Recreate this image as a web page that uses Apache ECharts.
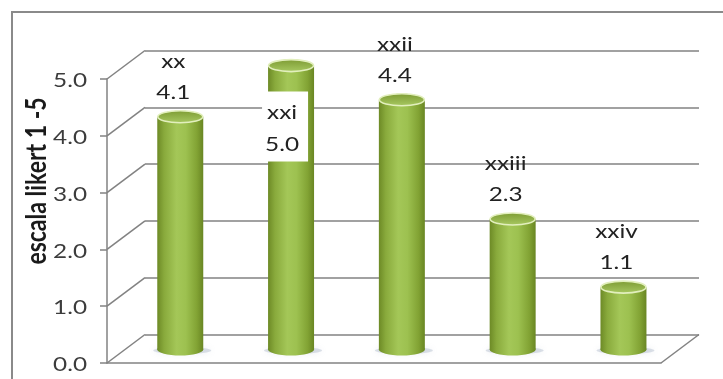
<!DOCTYPE html>
<html>
<head>
<meta charset="utf-8">
<script src="https://cdn.jsdelivr.net/npm/echarts@6/dist/echarts.min.js"></script>
<style>
  html, body { margin: 0; padding: 0; background: #ffffff; }
  #chart { width: 723px; height: 379px; }
</style>
</head>
<body>
<div id="chart"></div>
<script>
// Chart data
const categories = ['xx', 'xxi', 'xxii', 'xxiii', 'xxiv'];
const values = [4.1, 5.0, 4.4, 2.3, 1.1];
const tickValues = [0, 1, 2, 3, 4, 5];
const tickLabels = ['0.0', '1.0', '2.0', '3.0', '4.0', '5.0'];
const axisTitle = 'escala likert 1 -5';

// Styling / layout
const FONT = 'Lato';
const STRETCH = 1.28;              // horizontal text stretch
const GRID_COLOR = '#828282';
const FRONT = { left: 107, top: 79, width: 554, height: 284 };
const DEPTH = { dx: 38, dy: -28.5 }; // offset from the front plane to the back wall

function plane(k) {
  return {
    left: FRONT.left + DEPTH.dx * k,
    top: FRONT.top + DEPTH.dy * k,
    width: FRONT.width,
    height: FRONT.height
  };
}

const chart = echarts.init(document.getElementById('chart'), null, { renderer: 'canvas' });

// Perspective frame: depth connectors from the front axis to the back wall, plus tick labels
const frameSeries = {
  type: 'custom',
  xAxisIndex: 1,
  yAxisIndex: 1,
  silent: true,
  clip: false,
  z: 1,
  data: tickValues.map((v, k) => [0, v, k]).concat([[1, 0, -1]]),
  renderItem(params, api) {
    const p = api.coord([api.value(0), api.value(1)]);
    const k = api.value(2);
    const children = [{
      type: 'line',
      shape: { x1: p[0], y1: p[1], x2: p[0] + DEPTH.dx, y2: p[1] + DEPTH.dy },
      style: { stroke: GRID_COLOR, lineWidth: 1.5 }
    }];
    if (k >= 0) {
      children.push({
        type: 'text',
        x: p[0] - 20,
        y: p[1] + 2,
        scaleX: STRETCH,
        style: {
          text: tickLabels[k],
          align: 'right',
          verticalAlign: 'middle',
          fontSize: 19,
          fontFamily: FONT,
          fill: '#3c3c3c'
        }
      });
    }
    return { type: 'group', children };
  }
};

// Cylinder bars with their category / value labels
const barSeries = {
  type: 'custom',
  xAxisIndex: 2,
  yAxisIndex: 2,
  silent: true,
  clip: false,
  z: 3,
  data: values.map((v, i) => [i, v]),
  renderItem(params, api) {
    const i = api.value(0);
    const v = api.value(1);
    const top = api.coord([i, v]);
    const base = api.coord([i, 0]);
    const w = api.size([1, 0])[0] * 0.415;
    const rx = w / 2;
    const ry = 6;
    const cx = top[0];

    const bodyFill = {
      type: 'linear', x: 0, y: 0, x2: 1, y2: 0,
      colorStops: [
        { offset: 0, color: '#6d8a26' },
        { offset: 0.15, color: '#89aa3c' },
        { offset: 0.42, color: '#a4c758' },
        { offset: 0.62, color: '#9dc150' },
        { offset: 0.86, color: '#82a334' },
        { offset: 1, color: '#698623' }
      ]
    };
    const capFill = {
      type: 'linear', x: 0, y: 0, x2: 0, y2: 1,
      colorStops: [
        { offset: 0, color: '#7c9a32' },
        { offset: 1, color: '#a9ca63' }
      ]
    };
    const textStyle = {
      align: 'center',
      verticalAlign: 'middle',
      fontSize: 19,
      fontFamily: FONT,
      fill: '#222222'
    };

    const children = [
      {
        type: 'ellipse',
        shape: { cx: cx + 2, cy: base[1] + 1, rx: rx + 6, ry: 3.5 },
        style: {
          fill: 'rgba(140,155,180,0.3)',
          shadowBlur: 6,
          shadowColor: 'rgba(140,155,180,0.5)'
        }
      },
      {
        type: 'ellipse',
        shape: { cx: cx, cy: base[1], rx: rx, ry: ry },
        style: { fill: bodyFill }
      },
      {
        type: 'rect',
        shape: { x: cx - rx, y: top[1], width: w, height: base[1] - top[1] },
        style: { fill: bodyFill }
      },
      {
        type: 'ellipse',
        shape: { cx: cx, cy: top[1], rx: rx - 0.5, ry: ry },
        style: { fill: capFill, stroke: '#e2efbd', lineWidth: 1.6 }
      }
    ];

    const name = categories[i];
    const valueText = v.toFixed(1);
    if (top[1] - 55 < 25) {
      // Not enough room above: label sits on a white box over the bar
      children.push({
        type: 'rect',
        shape: { x: cx - 29, y: top[1] + 26, width: 46, height: 70 },
        style: { fill: '#ffffff' }
      });
      children.push({ type: 'text', x: cx - 9, y: top[1] + 47, scaleX: STRETCH, style: Object.assign({ text: name }, textStyle) });
      children.push({ type: 'text', x: cx - 9, y: top[1] + 79, scaleX: STRETCH, style: Object.assign({ text: valueText }, textStyle) });
    } else {
      children.push({ type: 'text', x: cx - 7, y: top[1] - 55, scaleX: STRETCH, style: Object.assign({ text: name }, textStyle) });
      children.push({ type: 'text', x: cx - 7, y: top[1] - 24, scaleX: STRETCH, style: Object.assign({ text: valueText }, textStyle) });
    }
    return { type: 'group', children };
  }
};

const option = {
  backgroundColor: '#ffffff',
  animation: false,
  grid: [plane(1), plane(0), plane(0.47)],
  xAxis: [
    { gridIndex: 0, type: 'value', min: 0, max: 1, show: false },
    {
      gridIndex: 1, type: 'value', min: 0, max: 1,
      axisLine: { show: true, lineStyle: { color: GRID_COLOR, width: 1.5 } },
      axisTick: { show: false }, axisLabel: { show: false }, splitLine: { show: false }
    },
    { gridIndex: 2, type: 'category', data: categories, show: false }
  ],
  yAxis: [
    {
      gridIndex: 0, type: 'value', min: 0, max: 5, interval: 1,
      axisLine: { show: false }, axisTick: { show: false }, axisLabel: { show: false },
      splitLine: { show: true, lineStyle: { color: GRID_COLOR, width: 1.5 } }
    },
    {
      gridIndex: 1, type: 'value', min: 0, max: 5, interval: 1,
      axisLine: { show: true, lineStyle: { color: GRID_COLOR, width: 1.5 } },
      axisTick: { show: true, inside: false, length: 7, lineStyle: { color: GRID_COLOR, width: 1.5 } },
      axisLabel: { show: false }, splitLine: { show: false }
    },
    { gridIndex: 2, type: 'value', min: 0, max: 5, show: false }
  ],
  series: [frameSeries, barSeries],
  graphic: [
    {
      type: 'rect',
      silent: true,
      shape: { x: 12, y: 12, width: 800, height: 500 },
      style: { fill: 'none', stroke: '#8a8a8a', lineWidth: 2 }
    },
    {
      type: 'text',
      silent: true,
      x: 37,
      y: 181,
      rotation: Math.PI / 2,
      scaleY: 1.2,
      style: {
        text: axisTitle,
        align: 'center',
        verticalAlign: 'middle',
        fontSize: 23,
        fontWeight: 'bold',
        fontFamily: FONT,
        fill: '#1a1a1a'
      }
    }
  ]
};

chart.setOption(option);
</script>
</body>
</html>
